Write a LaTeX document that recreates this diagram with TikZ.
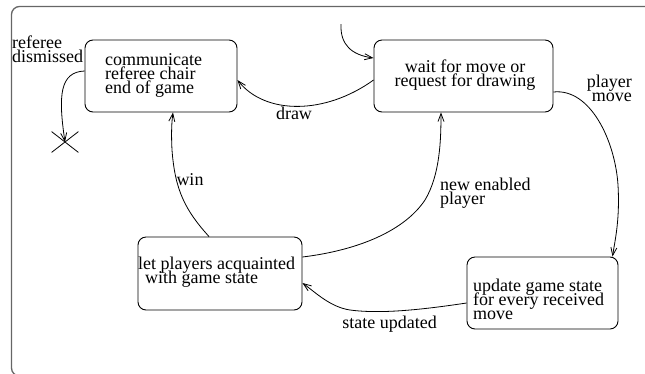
\documentclass[tikz,border=0pt]{standalone}
\usepackage{fontspec}
\setmainfont{Liberation Serif}
\usetikzlibrary{arrows.meta,shapes.misc}
\begin{document}
\begin{tikzpicture}[x=1pt,y=-1pt,
  every node/.style={font={\fontsize{18}{14}\selectfont\lineskiplimit=-30pt\relax}, inner sep=0pt},
  statebox/.style={draw, line width=0.9pt, rounded corners=8pt},
  txt/.style={align=left},
  arr/.style={line width=0.8pt, -{Straight Barb[length=8pt,width=6pt]}},
  frame/.style={draw=black!60, line width=1.3pt, rounded corners=8pt}]
\useasboundingbox (0,0) rectangle (645,373);
\draw[frame] (11.5,6.5) rectangle (700,376);
% states
\node[statebox, minimum width=152pt, minimum height=72pt] (comm) at (161,76) {};
\node[txt, anchor=west] (commtxt) at (105,75) {communicate\\referee chair\\end of game};
\node[statebox, minimum width=179pt, minimum height=72pt] (wait) at (463.5,76) {};
\node[align=center] (waittxt) at (465,75.5) {wait for move or\\request for drawing};
\node[statebox, minimum width=164pt, minimum height=73pt] (let) at (220,273.5) {};
\node[txt, anchor=west] (lettxt) at (138,272.5) {let players acquainted\\\hspace*{7pt}with game state};
\node[statebox, minimum width=151pt, minimum height=72pt] (upd) at (542.5,293) {};
\node[txt, anchor=west] (updtxt) at (473,299) {update game state\\for every received\\move};
% final state
\node[cross out, draw, line width=0.8pt, minimum width=26pt, minimum height=20pt] (final) at (65,142) {};
\coordinate (init) at (341,24);
% transitions
\draw[arr] (init) .. controls (340,45) and (352,55) .. ([yshift=18pt]wait.west);
\draw[arr] ([yshift=-4pt]wait.west) .. controls (325,115) and (265,115) .. ([yshift=-4pt]comm.east);
\draw[arr] ([yshift=-16pt]wait.east) .. controls (590,88) and (615,140) .. (618,185)
   .. controls (620,220) and (615,240) .. ([xshift=70pt]upd.north);
\draw[arr] ([yshift=-10pt]upd.west) .. controls (420,310) and (380,314) .. (350,310)
   .. controls (330,307) and (315,292) .. ([yshift=-9.5pt]let.east);
\draw[arr] ([yshift=16.5pt]let.east) .. controls (360,250) and (405,230) .. (425,200)
   .. controls (440,175) and (441,140) .. ([xshift=-22.5pt]wait.south);
\draw[arr] ([xshift=-11pt]let.north) .. controls (185,210) and (175,190) .. (172,150)
   .. controls (171,130) and (172,120) .. ([xshift=12pt]comm.south);
\draw[arr] ([yshift=5pt]comm.west) .. controls (60,72) and (58,95) .. (final.center);
% labels
\node[txt, anchor=west] (lref) at (12,49) {referee\\dismissed};
\node (ldraw) at (294,113) {draw};
\node (lwin) at (190,180) {win};
\node[align=right, anchor=east] (lplayer) at (632,88) {player\\move};
\node[txt, anchor=west] (lnew) at (440,193) {new enabled\\player};
\node (lstate) at (389.5,324) {state updated};
\end{tikzpicture}
\end{document}
